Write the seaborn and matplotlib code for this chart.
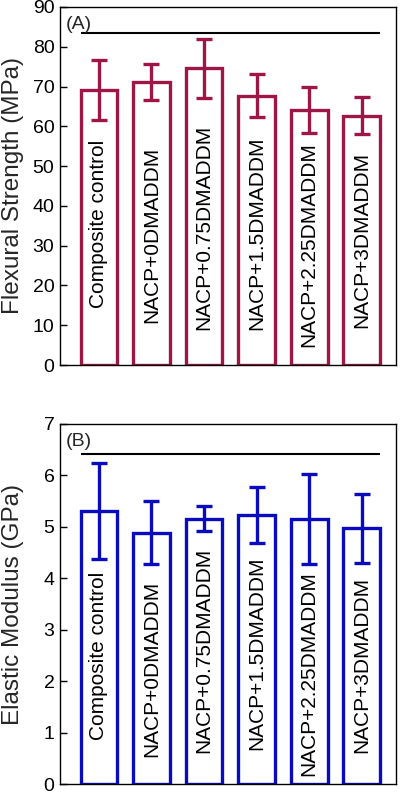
import matplotlib
matplotlib.use("Agg")
import matplotlib.pyplot as plt
import seaborn as sns
import pandas as pd
import numpy as np

groups = ["Composite control", "NACP+0DMADDM", "NACP+0.75DMADDM",
          "NACP+1.5DMADDM", "NACP+2.25DMADDM", "NACP+3DMADDM"]
flex_mean = [69.1, 71.1, 74.6, 67.7, 64.1, 62.7]
flex_sd = [7.6, 4.5, 7.45, 5.4, 5.85, 4.55]
mod_mean = [5.31, 4.89, 5.16, 5.23, 5.15, 4.97]
mod_sd = [0.93, 0.61, 0.24, 0.55, 0.87, 0.67]
flex_label_y = [14.3, 10.5, 8.8, 8.8, 4.6, 9.2]
mod_label_y = [0.87, 0.53, 0.62, 0.66, 0.17, 0.62]
flex_ticks = [0, 10, 20, 30, 40, 50, 60, 70, 80, 90]
mod_ticks = [0, 1, 2, 3, 4, 5, 6, 7]

sns.set_theme(style="white")
plt.rcParams['font.family'] = ['Liberation Sans', 'DejaVu Sans']

fig = plt.figure(figsize=(4.0, 7.94), dpi=100)
ax1 = fig.add_axes([0.15, 0.5403, 0.84, 0.4509])
ax2 = fig.add_axes([0.15, 0.0120, 0.84, 0.4541])

panels = [
    (ax1, flex_mean, flex_sd, flex_label_y, flex_ticks, "#9E1646",
     "Flexural Strength (MPa)", "(A)", 83.4),
    (ax2, mod_mean, mod_sd, mod_label_y, mod_ticks, "#0A0ABF",
     "Elastic Modulus (GPa)", "(B)", 6.41),
]

for ax, mean, sd, laby, ticks, col, ylab, tag, lineval in panels:
    df = pd.DataFrame({"group": groups, "value": mean})
    sns.barplot(data=df, x="group", y="value", ax=ax, width=0.7,
                color="white", edgecolor=col, linewidth=2.4, errorbar=None)
    for p in ax.patches:
        p.set_facecolor("white")
        p.set_edgecolor(col)
    ax.errorbar(np.arange(len(groups)), mean, yerr=sd, fmt="none",
                ecolor=col, elinewidth=2.4, capsize=5.5, capthick=2.4, zorder=5)
    for i, g in enumerate(groups):
        ax.text(i, laby[i], g, rotation=90, ha="center", va="bottom",
                fontsize=15, color="black")
    ax.set_xlim(-0.74, 5.65)
    ax.set_ylim(ticks[0], ticks[-1])
    ax.set_yticks(ticks)
    ax.set_yticklabels([str(t) for t in ticks], fontsize=14)
    ax.set_xticks([])
    ax.set_xlabel("")
    ax.set_ylabel(ylab, fontsize=17.5)
    ax.yaxis.set_label_coords(-0.107, 0.5)
    ax.tick_params(axis="y", direction="in", length=5, width=1, left=True,
                   pad=4, colors="black")
    for s in ax.spines.values():
        s.set_visible(True)
        s.set_color("black")
        s.set_linewidth(1.0)
    ax.hlines(lineval, -0.35, 5.35, color="black", linewidth=1.5)
    ax.text(-0.64, ticks[-1] * 0.975, tag, ha="left", va="top", fontsize=14)

fig.savefig("out.png", dpi=100)
